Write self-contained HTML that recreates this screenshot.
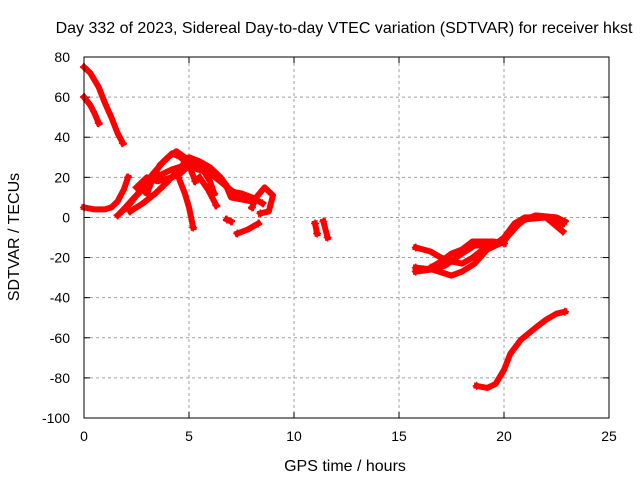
<!DOCTYPE html>
<html><head><meta charset="utf-8"><style>
body{margin:0;background:#fff;}
svg text{font-family:"Liberation Sans",sans-serif;font-size:14px;fill:#000;}
svg text.big{font-size:16px;}
</style></head><body>
<svg width="640" height="480">
<rect width="640" height="480" fill="#fff"/>
<text class="big" x="344" y="33" text-anchor="middle">Day 332 of 2023, Sidereal Day-to-day VTEC variation (SDTVAR) for receiver hkst</text>
<g id="grid"></g>
<g id="axes"></g>
<g id="series"></g>
<rect x="84" y="57" width="525" height="361" fill="none" stroke="#000" stroke-width="1"/>
<text class="big" x="345" y="471" text-anchor="middle">GPS time / hours</text>
<text class="big" transform="translate(19,237) rotate(-90)" text-anchor="middle">SDTVAR / TECUs</text>
</svg>
<script>
const xTicks=[0,5,10,15,20,25];
const yTicks=[80,60,40,20,0,-20,-40,-60,-80,-100];
const trackA=[[0,75],[0.3,72],[0.7,65],[1.0,57],[1.3,50],[1.6,42],[1.85,37]];
const trackB=[[0,60],[0.3,56],[0.5,52],[0.7,47]];
const trackC=[[0,5],[0.5,4],[1.0,4],[1.3,5],[1.6,8],[1.9,14],[2.1,20]];
const trackD=[[1.6,1],[2.2,7],[2.8,15],[3.3,22],[3.8,28],[4.2,32],[4.6,30],[5.0,26],[5.3,18]];
const trackE=[[2.2,3],[2.8,7],[3.4,12],[4.0,18],[4.6,25],[5.0,30],[5.5,28],[6.0,25],[6.5,20],[7.0,13],[7.5,12],[8.0,10],[8.5,7]];
const trackF=[[4.5,20],[4.8,12],[5.0,5],[5.2,-5]];
const trackG=[[3.0,12],[3.3,20],[3.6,26],[4.0,30],[4.4,33],[4.8,30],[5.2,28],[5.6,25],[6.0,18],[6.2,12]];
const trackH=[[2.5,15],[3.0,20],[3.5,18],[4.2,20],[4.6,22],[5.2,28],[5.8,26],[6.4,20],[6.8,15],[7.0,10],[7.5,9],[8.0,8]];
const trackI=[[5.5,20],[5.9,14],[6.3,6]];
const trackJ=[[8.0,5],[8.2,10],[8.6,15],[9.0,11],[8.8,3],[8.4,2]];
const trackK=[[7.3,-8],[7.8,-6],[8.3,-3]];
const trackL=[[6.8,-1],[7.0,-2]];
const trackM=[[11.0,-3],[11.1,-8]];
const trackN=[[11.4,-2],[11.6,-10]];
const trackO=[[1.8,3],[2.4,10],[3.0,16],[3.6,21],[4.2,24],[4.8,26],[5.4,24],[6.0,22],[6.6,17],[7.2,12]];
const trackP=[[15.8,-15],[16.5,-17],[17.0,-20],[17.5,-22],[18,-23],[18.5,-20],[19,-16],[19.5,-14],[20,-10],[20.5,-3],[21,0],[22,0],[22.8,-3]];
const trackQ=[[15.8,-27],[16.5,-26],[17.2,-24],[18,-18],[18.6,-14],[19.5,-14],[20,-12],[20.5,-5],[21,-1],[22,0],[22.8,-7]];
const trackR=[[15.8,-25],[16.6,-26],[17.2,-28],[17.5,-29],[18,-27],[18.6,-23],[19.2,-16],[19.8,-13],[20.3,-8],[20.8,-2],[21.5,1],[22.5,0],[22.9,-2]];
const trackS=[[16.5,-25],[17,-22],[17.5,-18],[18,-16],[18.5,-12],[19.5,-12],[20,-13]];
const trackT=[[18.7,-84],[19.2,-85],[19.6,-83],[20,-76],[20.3,-68],[20.8,-61],[21.5,-55],[22,-51],[22.5,-48],[22.9,-47]];
const tracks=[trackA,trackB,trackC,trackD,trackE,trackF,trackG,trackH,trackI,trackJ,trackK,trackL,trackM,trackN,trackO,trackP,trackQ,trackR,trackS,trackT];
const NS='http://www.w3.org/2000/svg';
const X0=84,X1=609,Y0=418,Y1=57;
function sx(v){return X0+(v-0)/(25-0)*(X1-X0);}
function sy(v){return Y0-(v+100)/(180)*(Y0-Y1);}
const grid=document.getElementById('grid'),axes=document.getElementById('axes'),ser=document.getElementById('series');
function mk(t,a,p){const e=document.createElementNS(NS,t);for(const k in a)e.setAttribute(k,a[k]);p.appendChild(e);return e;}
xTicks.forEach(v=>{const x=sx(v);
 if(v>0&&v<25){const l=mk('line',{x1:x,x2:x,y1:Y1,y2:Y0,stroke:'#a0a0a0','stroke-dasharray':'3,3'},grid);
 
 }
 mk('line',{x1:x,x2:x,y1:Y0,y2:Y0-6,stroke:'#000'},axes);
 mk('line',{x1:x,x2:x,y1:Y1,y2:Y1+6,stroke:'#000'},axes);
 const t=mk('text',{x:x,y:Y0+23,'text-anchor':'middle'},axes);t.textContent=v;
 
 });
yTicks.forEach(v=>{const y=sy(v);
 if(v>-100&&v<80){const l=mk('line',{x1:X0,x2:X1,y1:y,y2:y,stroke:'#a0a0a0','stroke-dasharray':'3,3'},grid);
 
 }
 mk('line',{x1:X0,x2:X0+6,y1:y,y2:y,stroke:'#000'},axes);
 mk('line',{x1:X1,x2:X1-6,y1:y,y2:y,stroke:'#000'},axes);
 const t=mk('text',{x:X0-14,y:y+5,'text-anchor':'end'},axes);t.textContent=v;
 
 });
tracks.forEach(tr=>{
 const pts=tr.map(p=>sx(p[0]).toFixed(1)+','+sy(p[1]).toFixed(1)).join(' ');
 const pl=mk('polyline',{points:pts,fill:'none',stroke:'#f00','stroke-width':6,'stroke-linejoin':'round','stroke-linecap':'square'},ser);
 
 
 [tr[0],tr[tr.length-1]].forEach(p=>{const x=sx(p[0]),y=sy(p[1]);
  const m=mk('path',{d:`M${x-4},${y}h8M${x},${y-4}v8`,stroke:'#f00','stroke-width':1.5},ser);
  
  });
});
</script>
</body></html>
